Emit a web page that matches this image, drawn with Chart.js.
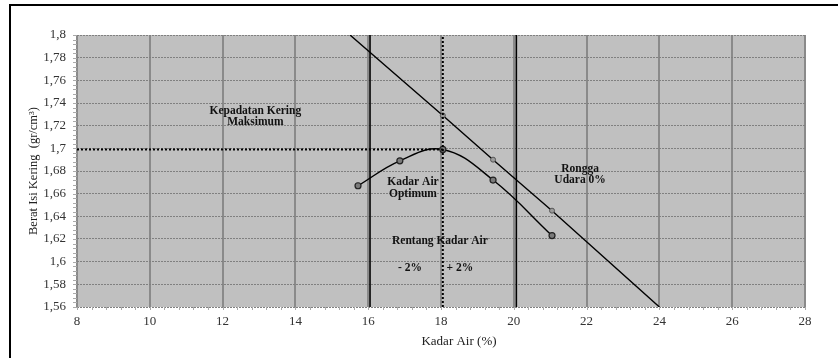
<!DOCTYPE html>
<html>
<head>
<meta charset="utf-8">
<script src="https://cdn.jsdelivr.net/npm/chart.js@4"></script>
<style>
    html, body { margin: 0; padding: 0; background: #fff; overflow: hidden; }
    #wrap { position: relative; width: 838px; height: 358px; }
    #frame { position: absolute; left: 9px; top: 4px; width: 900px; height: 400px; border: 2px solid #000; box-sizing: border-box; }
    canvas { position: absolute; left: 0; top: 0; }
</style>
</head>
<body>
<div id="wrap">
    <div id="frame"></div>
    <canvas id="chart" width="838" height="358"></canvas>
</div>
<script>
// compaction curve (kadar air %, berat isi kering gr/cm3)
const curveX = [15.72, 16.87, 18.05, 19.43, 21.05];
const curveY = [1.667, 1.689, 1.699, 1.672, 1.623];

// zero air void line
const zavX = [15.5, 18.05, 19.43, 21.05, 24.0];
const zavY = [1.8, 1.729, 1.690, 1.645, 1.56];

// range markers
const rangeX = [16.05, 20.07];
const optimumX = 18.05;
const maxDensity = 1.699;

const xTicks = [8, 10, 12, 14, 16, 18, 20, 22, 24, 26, 28];
const yTicks = [1.56, 1.58, 1.6, 1.62, 1.64, 1.66, 1.68, 1.7, 1.72, 1.74, 1.76, 1.78, 1.8];

const notes = [
    { lines: ['Kepadatan Kering', 'Maksimum'], x: 12.9, y: 1.733 },
    { lines: ['Kadar Air', 'Optimum'], x: 17.23, y: 1.670 },
    { lines: ['Rentang Kadar Air'], x: 17.97, y: 1.618 },
    { lines: ['- 2%'], x: 17.15, y: 1.594 },
    { lines: ['+ 2%'], x: 18.52, y: 1.594 },
    { lines: ['Rongga', 'Udara 0%'], x: 21.82, y: 1.682 }
];

const SERIF = '"Liberation Serif", "DejaVu Serif", serif';
const toPts = (xs, ys) => xs.map((x, i) => ({ x, y: ys[i] }));
const fmt = (v) => String(Math.round(v * 100) / 100).replace('.', ',');

const vLine = (x, extra) => Object.assign({
    data: [{ x, y: 1.56 }, { x, y: 1.8 }],
    showLine: true,
    borderColor: '#000',
    borderWidth: 1.6,
    pointRadius: 0
}, extra || {});

const datasets = [
    vLine(rangeX[0]),
    vLine(rangeX[1]),
    vLine(optimumX, { borderDash: [2, 2], borderWidth: 2 }),
    {
        data: [{ x: 8, y: maxDensity }, { x: optimumX, y: maxDensity }],
        showLine: true,
        borderColor: '#000',
        borderWidth: 2,
        borderDash: [2, 2],
        pointRadius: 0
    },
    {
        data: toPts(zavX, zavY),
        showLine: true,
        borderColor: '#000',
        borderWidth: 1.4,
        pointRadius: [0, 2.5, 2.5, 2.5, 0],
        pointBackgroundColor: '#9a9a9a',
        pointBorderColor: '#555',
        pointBorderWidth: 1
    },
    {
        data: toPts(curveX, curveY),
        showLine: true,
        tension: 0.4,
        borderColor: '#000',
        borderWidth: 1.4,
        pointRadius: 3,
        pointBackgroundColor: '#7a7a7a',
        pointBorderColor: '#222',
        pointBorderWidth: 1.2
    }
];

const decorations = {
    id: 'decorations',
    beforeDraw(chart) {
        const { ctx, chartArea: a } = chart;
        ctx.save();
        ctx.fillStyle = '#c0c0c0';
        ctx.fillRect(a.left, a.top, a.right - a.left, a.bottom - a.top);
        ctx.restore();
    },
    afterDraw(chart) {
        const { ctx, chartArea: a, scales } = chart;
        const xs = scales.x, ys = scales.y;
        ctx.save();
        // minor ticks
        ctx.strokeStyle = '#aaaaaa';
        ctx.lineWidth = 1;
        ctx.beginPath();
        for (let v = 1.56; v <= 1.8001; v += 0.004) {
            const py = Math.round(ys.getPixelForValue(v)) + 0.5;
            ctx.moveTo(a.left - 4, py);
            ctx.lineTo(a.left, py);
        }
        for (let v = 8; v <= 28.001; v += 0.4) {
            const px = Math.round(xs.getPixelForValue(v)) + 0.5;
            ctx.moveTo(px, a.bottom);
            ctx.lineTo(px, a.bottom + 3);
        }
        ctx.stroke();

        // annotations
        ctx.fillStyle = '#111';
        ctx.font = 'bold 11.5px ' + SERIF;
        ctx.textAlign = 'center';
        ctx.textBaseline = 'middle';
        notes.forEach((n) => {
            const px = xs.getPixelForValue(n.x);
            const py = ys.getPixelForValue(n.y);
            n.lines.forEach((t, i) => ctx.fillText(t, px, py + i * 11.5));
        });

        // x axis title
        ctx.font = '13px ' + SERIF;
        ctx.fillStyle = '#222';
        ctx.fillText('Kadar Air (%)', 459, 342);
        ctx.restore();
    }
};

new Chart(document.getElementById('chart'), {
    type: 'scatter',
    data: { datasets },
    plugins: [decorations],
    options: {
        responsive: false,
        animation: false,
        layout: { padding: { top: 35, right: 33, left: 0, bottom: 0 } },
        plugins: { legend: { display: false }, tooltip: { enabled: false } },
        scales: {
            x: {
                type: 'linear',
                min: 8,
                max: 28,
                afterBuildTicks: (s) => { s.ticks = xTicks.map((v) => ({ value: v })); },
                afterFit: (s) => { s.height = 51; },
                ticks: { color: '#333', font: { family: SERIF, size: 13 }, padding: 7, maxRotation: 0 },
                grid: { color: '#8a8a8a', lineWidth: 2, drawTicks: false },
                border: { display: false }
            },
            y: {
                type: 'linear',
                min: 1.56,
                max: 1.8,
                afterBuildTicks: (s) => { s.ticks = yTicks.map((v) => ({ value: v })); },
                afterFit: (s) => { s.width = 77; },
                ticks: {
                    color: '#333',
                    font: { family: SERIF, size: 13 },
                    padding: 11,
                    callback: (v) => fmt(v)
                },
                grid: { color: '#808080', lineWidth: 1, drawTicks: false },
                border: { display: false, dash: [2, 1] },
                title: {
                    display: true,
                    text: 'Berat Isi Kering  (gr/cm³)',
                    color: '#222',
                    font: { family: SERIF, size: 12.5 },
                    padding: { top: 26, bottom: 0 }
                }
            }
        }
    }
});
</script>
</body>
</html>
